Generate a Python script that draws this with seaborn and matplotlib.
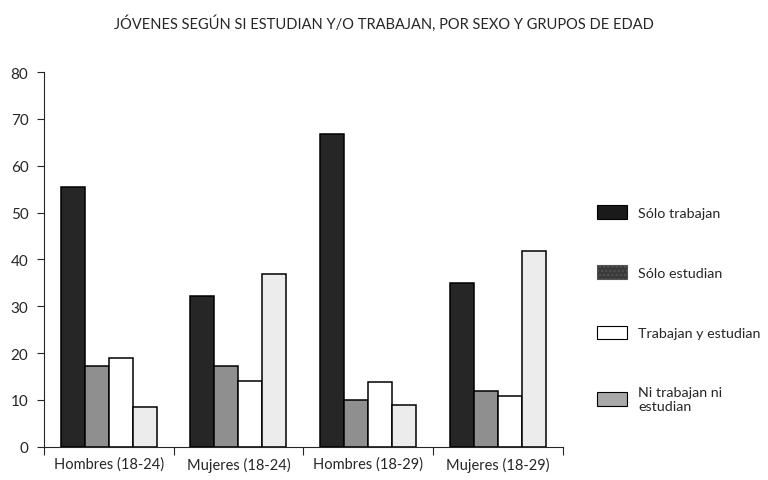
"""Jóvenes según si estudian y/o trabajan"""
import matplotlib
matplotlib.use("Agg")
import matplotlib.pyplot as plt
import matplotlib.patches as mpatches
import pandas as pd
import seaborn as sns

groups = ["Hombres (18-24)", "Mujeres (18-24)", "Hombres (18-29)", "Mujeres (18-29)"]
series = ["Sólo trabajan", "Sólo estudian", "Trabajan y estudian", "Ni trabajan ni\nestudian"]
solo_trabajan = [55.5, 32.2, 66.8, 35.0]
solo_estudian = [17.3, 17.3, 10.0, 11.9]
trabajan_estudian = [19.0, 14.0, 13.8, 10.8]
ni_ni = [8.5, 36.9, 9.0, 41.8]
bar_colors = ["#262626", "#8f8f8f", "#ffffff", "#ececec"]
legend_colors = ["#1a1a1a", "#3a3a3a", "#ffffff", "#a8a8a8"]

values = [solo_trabajan, solo_estudian, trabajan_estudian, ni_ni]
rows = []
for name, vals in zip(series, values):
    for g, v in zip(groups, vals):
        rows.append({"grupo": g, "serie": name, "valor": v})
df = pd.DataFrame(rows)

sns.set_style("ticks")
plt.rcParams["font.family"] = ["Lato", "DejaVu Sans"]

fig = plt.figure(figsize=(7.68, 4.81), dpi=100)
ax = fig.add_axes([0.057, 0.069, 0.676, 0.779])

sns.barplot(data=df, x="grupo", y="valor", hue="serie", order=groups,
            hue_order=series, palette=bar_colors, width=0.74,
            edgecolor="black", linewidth=1.1, saturation=1, legend=False, ax=ax)

ax.set_ylim(0, 80)
ax.set_xlim(-0.5, 3.5)
ax.set_yticks(range(0, 81, 10))
ax.tick_params(axis="y", labelsize=11, length=5, width=0.8, pad=6)
ax.set_xticks([-0.5, 0.5, 1.5, 2.5, 3.5])
ax.set_xticklabels([])
ax.tick_params(axis="x", length=6, width=0.8)
ax.set_xticks(range(len(groups)), minor=True)
ax.set_xticklabels(groups, minor=True, fontsize=10.5)
ax.tick_params(axis="x", which="minor", length=0, pad=7)
ax.set_xlabel("")
ax.set_ylabel("")
sns.despine(ax=ax)
for sp in ax.spines.values():
    sp.set_linewidth(0.8)

handles = [mpatches.Patch(facecolor=c, edgecolor="black", linewidth=0.8)
           for c in legend_colors]
handles[1].set_hatch("....")
handles[1].set_edgecolor("#555555")
fig.legend(handles, series, loc="upper left", bbox_to_anchor=(0.76, 0.598),
           frameon=False, fontsize=10.3, labelspacing=3.25, handlelength=2.1,
           handleheight=1.1, handletextpad=0.8)

fig.text(0.5, 0.952, "JÓVENES SEGÚN SI ESTUDIAN Y/O TRABAJAN, POR SEXO Y GRUPOS DE EDAD",
         ha="center", va="center", fontsize=10.5)

fig.savefig("out.png", dpi=100)
